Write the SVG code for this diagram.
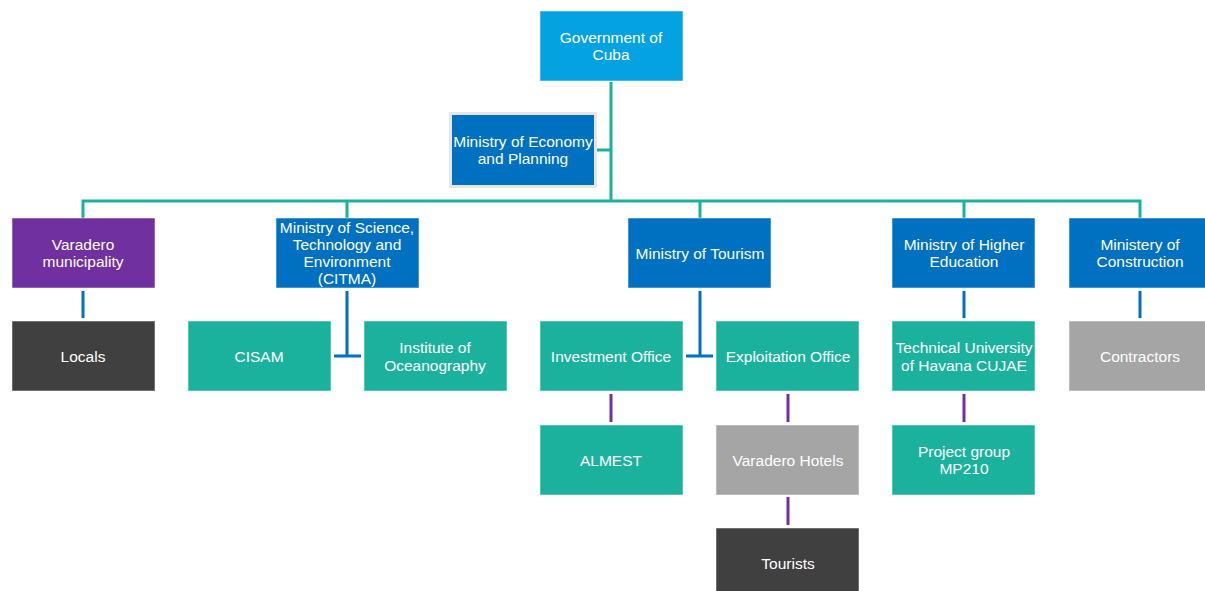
<svg xmlns="http://www.w3.org/2000/svg" width="1205" height="591" viewBox="0 0 1205 591">
<style>
.box{stroke:#ffffff;stroke-opacity:0.5;stroke-width:1}
.gov{fill:#05A2E2}
.blue{fill:#0070C0}
.purple{fill:#7030A0}
.teal{fill:#1BB29D}
.gray{fill:#A5A5A5}
.dark{fill:#404040}
text{font-family:"Liberation Sans",Arial,sans-serif;font-size:15.5px;fill:#ffffff;text-anchor:middle}
.lt{fill:none;stroke:#1BB29D;stroke-width:3}
.lb{fill:none;stroke:#0070C0;stroke-width:3}
.lp{fill:none;stroke:#7030A0;stroke-width:3}
</style>
<rect width="1205" height="591" fill="#ffffff"/>
<g id="connectors">
<path class="lt" d="M611 82V201M597 150H611M83 218V201H1140V218M347 201V218M700 201V218M964 201V218"/>
<path class="lb" d="M83 291V318M347 291V356M334 356H361M700 291V356M686 356H713M964 291V318M1140 291V318"/>
<path class="lp" d="M611 394V422M788 394V422M788 497V525M964 394V422"/>
</g>
<g id="gov"><rect class="box gov" x="540" y="11" width="143" height="70"/><text x="611" y="43">Government of</text><text x="611" y="60">Cuba</text></g>
<g id="economy"><rect x="449" y="112" width="148" height="76" fill="#E6E6E6"/><rect class="blue" x="452" y="115" width="142" height="70"/><text x="523" y="147">Ministry of Economy</text><text x="523" y="164">and Planning</text></g>
<g id="varadero"><rect class="box purple" x="12" y="218" width="143" height="70"/><text x="83" y="250">Varadero</text><text x="83" y="267">municipality</text></g>
<g id="citma"><rect class="box blue" x="276" y="218" width="143" height="70"/><text x="347" y="233">Ministry of Science,</text><text x="347" y="250">Technology and</text><text x="347" y="267">Environment</text><text x="347" y="284">(CITMA)</text></g>
<g id="tourism"><rect class="box blue" x="628" y="218" width="143" height="70"/><text x="700" y="259">Ministry of Tourism</text></g>
<g id="highered"><rect class="box blue" x="892" y="218" width="143" height="70"/><text x="964" y="250">Ministry of Higher</text><text x="964" y="267">Education</text></g>
<g id="construction"><rect class="box blue" x="1069" y="218" width="143" height="70"/><text x="1140" y="250">Ministery of</text><text x="1140" y="267">Construction</text></g>
<g id="locals"><rect class="box dark" x="12" y="321" width="143" height="70"/><text x="83" y="362">Locals</text></g>
<g id="cisam"><rect class="box teal" x="188" y="321" width="143" height="70"/><text x="259" y="362">CISAM</text></g>
<g id="oceano"><rect class="box teal" x="364" y="321" width="143" height="70"/><text x="435" y="353">Institute of</text><text x="435" y="371">Oceanography</text></g>
<g id="investment"><rect class="box teal" x="540" y="321" width="143" height="70"/><text x="611" y="362">Investment Office</text></g>
<g id="exploitation"><rect class="box teal" x="716" y="321" width="143" height="70"/><text x="788" y="362">Exploitation Office</text></g>
<g id="cujae"><rect class="box teal" x="892" y="321" width="143" height="70"/><text x="964" y="353">Technical University</text><text x="964" y="371">of Havana CUJAE</text></g>
<g id="contractors"><rect class="box gray" x="1069" y="321" width="143" height="70"/><text x="1140" y="362">Contractors</text></g>
<g id="almest"><rect class="box teal" x="540" y="425" width="143" height="70"/><text x="611" y="466">ALMEST</text></g>
<g id="hotels"><rect class="box gray" x="716" y="425" width="143" height="70"/><text x="788" y="466">Varadero Hotels</text></g>
<g id="mp210"><rect class="box teal" x="892" y="425" width="143" height="70"/><text x="964" y="457">Project group</text><text x="964" y="474">MP210</text></g>
<g id="tourists"><rect class="box dark" x="716" y="528" width="143" height="70"/><text x="788" y="569">Tourists</text></g>
</svg>
